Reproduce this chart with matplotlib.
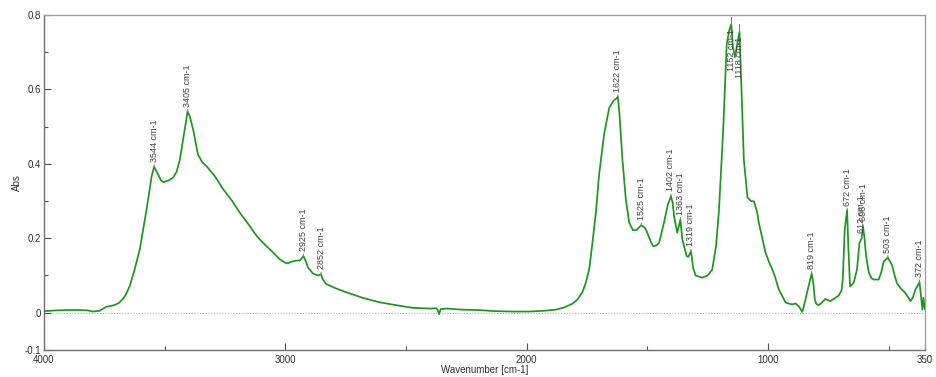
import numpy as np
import matplotlib
matplotlib.use("Agg")
import matplotlib.pyplot as plt

plt.rcParams['font.family'] = ['Liberation Sans', 'DejaVu Sans']

# IR spectrum (wavenumber in cm-1, absorbance)
wavenumber = [
    4000, 3950, 3900, 3850, 3820, 3797, 3770, 3741, 3710, 3690, 3673, 3660, 3644,
    3625, 3603, 3575, 3554, 3544, 3530, 3515, 3506, 3485, 3465, 3450, 3437, 3420,
    3405, 3395, 3382, 3362, 3345, 3327, 3290, 3258, 3220, 3189, 3150, 3120, 3085,
    3051, 3024, 3000, 2989, 2970, 2955, 2940, 2925, 2915, 2906, 2885, 2865, 2852,
    2845, 2831, 2790, 2748, 2680, 2610, 2540, 2472, 2400, 2375, 2368, 2363, 2356,
    2330, 2265, 2200, 2127, 2060, 1989, 1930, 1879, 1845, 1810, 1790, 1769, 1755,
    1740, 1727, 1713, 1700, 1679, 1658, 1640, 1630, 1622, 1615, 1603, 1589, 1575,
    1560, 1545, 1525, 1510, 1500, 1485, 1475, 1460, 1451, 1431, 1415, 1402, 1395,
    1389, 1376, 1363, 1355, 1337, 1330, 1319, 1310, 1300, 1272, 1250, 1231, 1215,
    1203, 1185, 1171, 1160, 1152, 1145, 1137, 1128, 1118, 1110, 1100, 1085, 1070,
    1058, 1045, 1038, 1020, 1010, 995, 983, 970, 955, 941, 927, 900, 886, 870,
    858, 850, 838, 819, 812, 806, 800, 790, 775, 762, 750, 741, 725, 707, 695,
    690, 682, 672, 667, 660, 652, 645, 631, 621, 612, 606, 600, 593, 582, 570,
    561, 541, 530, 520, 503, 486, 475, 466, 450, 438, 425, 410, 400, 389, 372,
    365, 360, 356, 350,
]
absorbance = [
    0.004, 0.006, 0.007, 0.007, 0.006, 0.003, 0.005, 0.016, 0.020, 0.026, 0.037, 0.050, 0.073,
    0.115, 0.171, 0.278, 0.367, 0.392, 0.375, 0.355, 0.351, 0.355, 0.363, 0.380, 0.412, 0.480,
    0.541, 0.525, 0.492, 0.425, 0.405, 0.394, 0.365, 0.332, 0.300, 0.269, 0.235, 0.207, 0.183,
    0.162, 0.144, 0.134, 0.133, 0.138, 0.140, 0.140, 0.152, 0.138, 0.121, 0.105, 0.100, 0.103,
    0.090, 0.077, 0.065, 0.055, 0.040, 0.028, 0.020, 0.013, 0.011, 0.012, 0.006, -0.004, 0.010,
    0.011, 0.008, 0.007, 0.004, 0.003, 0.003, 0.005, 0.008, 0.014, 0.024, 0.035, 0.055, 0.080,
    0.120, 0.190, 0.270, 0.370, 0.480, 0.550, 0.570, 0.575, 0.580, 0.530, 0.411, 0.304, 0.242,
    0.222, 0.222, 0.235, 0.228, 0.215, 0.190, 0.178, 0.182, 0.188, 0.242, 0.290, 0.313, 0.295,
    0.259, 0.215, 0.250, 0.197, 0.152, 0.150, 0.165, 0.120, 0.100, 0.094, 0.100, 0.116, 0.180,
    0.276, 0.499, 0.722, 0.760, 0.775, 0.714, 0.687, 0.720, 0.755, 0.606, 0.411, 0.310, 0.300,
    0.299, 0.270, 0.242, 0.190, 0.161, 0.135, 0.118, 0.095, 0.062, 0.045, 0.027, 0.022, 0.025, 0.015,
    0.002, 0.020, 0.054, 0.105, 0.080, 0.036, 0.024, 0.020, 0.028, 0.037, 0.033, 0.031, 0.038, 0.046, 0.060,
    0.089, 0.223, 0.275, 0.178, 0.071, 0.075, 0.080, 0.116, 0.187, 0.200, 0.232, 0.200, 0.151, 0.107, 0.092,
    0.089, 0.089, 0.110, 0.138, 0.148, 0.128, 0.100, 0.080, 0.065, 0.058, 0.048, 0.031, 0.040, 0.062, 0.082,
    0.040, 0.008, 0.040, 0.010,
]

# labelled peaks
peak_pos = [3544, 3405, 2925, 2852, 1622, 1525, 1402, 1363, 1319,
            1152, 1118, 819, 672, 612, 606, 503, 372]
peak_below = [1152, 1118]   # labels drawn below the peak top (no room above)

x_major = [4000, 3000, 2000, 1000, 350]
x_minor = [3500, 2500, 1500, 500]
y_major = [-0.1, 0, 0.2, 0.4, 0.6, 0.8]
y_minor = [0.1, 0.3, 0.5, 0.7]

fig = plt.figure(figsize=(9.37, 3.77), dpi=100)
ax = fig.add_axes([0.047, 0.072, 0.94, 0.888])

ax.axhline(0, color='#b0b0b0', lw=0.8, ls=(0, (1, 1.5)), zorder=1)
ax.plot(wavenumber, absorbance, color='#1e951e', lw=1.25, zorder=3)

lookup = dict(zip(wavenumber, absorbance))
for w in peak_pos:
    a = lookup[w]
    txt = f"{w} cm-1"
    if w in peak_below:
        ax.plot([w, w], [a, a + 0.02], color='#808080', lw=0.8, zorder=4)
        ax.text(w, a - 0.012, txt, rotation=90, ha='center', va='top',
                fontsize=6.5, color='#404040', zorder=5)
    else:
        ax.annotate(txt, xy=(w, a), xytext=(0, 3.5), textcoords='offset points',
                    rotation=90, ha='center', va='bottom', fontsize=6.5,
                    color='#404040', zorder=5,
                    arrowprops=dict(arrowstyle='-', color='#808080', lw=0.8,
                                    shrinkA=0, shrinkB=0))

ax.set_xlim(4000, 350)
ax.set_ylim(-0.1, 0.8)
ax.set_xticks(x_major)
ax.set_xticklabels([str(v) for v in x_major])
ax.set_xticks(x_minor, minor=True)
ax.set_yticks(y_major)
ax.set_yticklabels(['-0.1', '0', '0.2', '0.4', '0.6', '0.8'])
ax.set_yticks(y_minor, minor=True)

ax.tick_params(axis='both', which='major', direction='in', length=5, width=0.8,
               color='#505050', labelsize=7, labelcolor='#303030', pad=2)
ax.tick_params(axis='x', which='major', pad=4)
ax.tick_params(axis='both', which='minor', direction='in', length=3, width=0.8,
               color='#505050')
ax.tick_params(axis='x', which='both', top=False)
ax.tick_params(axis='y', which='both', right=False)

for side, sp in ax.spines.items():
    sp.set_color('#707070' if side in ('left', 'bottom') else '#a0a0a0')
    sp.set_linewidth(1.0)

ax.set_xlabel('Wavenumber [cm-1]', fontsize=7, color='#303030', labelpad=0)
ax.set_ylabel('Abs', fontsize=7, color='#303030', labelpad=2)

fig.savefig('out.png', dpi=100)
